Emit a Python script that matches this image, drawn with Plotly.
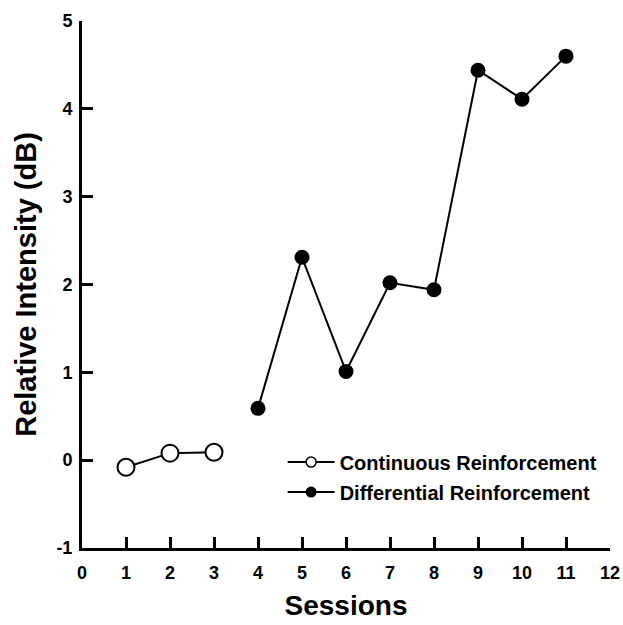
import plotly.graph_objects as go

cont_sessions = [1, 2, 3]
cont_values = [-0.08, 0.08, 0.09]
diff_sessions = [4, 5, 6, 7, 8, 9, 10, 11]
diff_values = [0.59, 2.31, 1.01, 2.02, 1.94, 4.44, 4.11, 4.60]
x_ticks = list(range(0, 13))
y_ticks = [-1, 0, 1, 2, 3, 4, 5]
y_tick_text = ["-1", "0", "1", "2", "3", "4", "5"]

FONT = "Arial, Liberation Sans, sans-serif"

fig = go.Figure()
fig.add_trace(go.Scatter(x=cont_sessions, y=cont_values, mode="lines+markers",
                         line=dict(color="black", width=2),
                         marker=dict(symbol="circle", size=17, color="white",
                                     line=dict(color="black", width=2)),
                         showlegend=False))
fig.add_trace(go.Scatter(x=diff_sessions, y=diff_values, mode="lines+markers",
                         line=dict(color="black", width=2),
                         marker=dict(symbol="circle", size=15, color="black"),
                         showlegend=False))
# legend entries
fig.add_trace(go.Scatter(x=[None], y=[None], mode="lines+markers",
                         name="Continuous Reinforcement", legendgroup="a",
                         line=dict(color="black", width=2),
                         marker=dict(symbol="circle", size=10, color="white",
                                     line=dict(color="black", width=1.5))))
fig.add_trace(go.Scatter(x=[None], y=[None], mode="lines+markers",
                         name="Differential Reinforcement", legendgroup="b",
                         line=dict(color="black", width=2),
                         marker=dict(symbol="circle", size=11, color="black")))

axis_common = dict(showline=True, linecolor="black", linewidth=3,
                   ticks="inside", ticklen=11, tickwidth=3, tickcolor="black",
                   showgrid=False, zeroline=False, automargin=False,
                   tickfont=dict(family=FONT, size=18, color="black", weight="bold"))

fig.update_layout(
    width=623, height=625,
    margin=dict(l=82, r=13, t=21, b=77),
    paper_bgcolor="white", plot_bgcolor="white",
    xaxis=dict(range=[0, 12], tickvals=x_ticks, ticklabelstandoff=6,
               title=dict(text="Sessions", standoff=14,
                          font=dict(family=FONT, size=28, color="black", weight="bold")),
               **axis_common),
    yaxis=dict(range=[-1, 5], tickvals=y_ticks, ticktext=y_tick_text, ticklabelstandoff=3,
               title=dict(text="Relative Intensity (dB)", standoff=12,
                          font=dict(family=FONT, size=29, color="black", weight="bold")),
               **axis_common),
    legend=dict(x=0.38, y=0.2, xanchor="left", yanchor="top", itemwidth=47,
                bgcolor="rgba(0,0,0,0)", tracegroupgap=1,
                font=dict(family=FONT, size=20, color="black", weight="bold")),
)

fig.write_html("out.html", config={"displayModeBar": False},
               post_script="document.body.style.margin='0';")
